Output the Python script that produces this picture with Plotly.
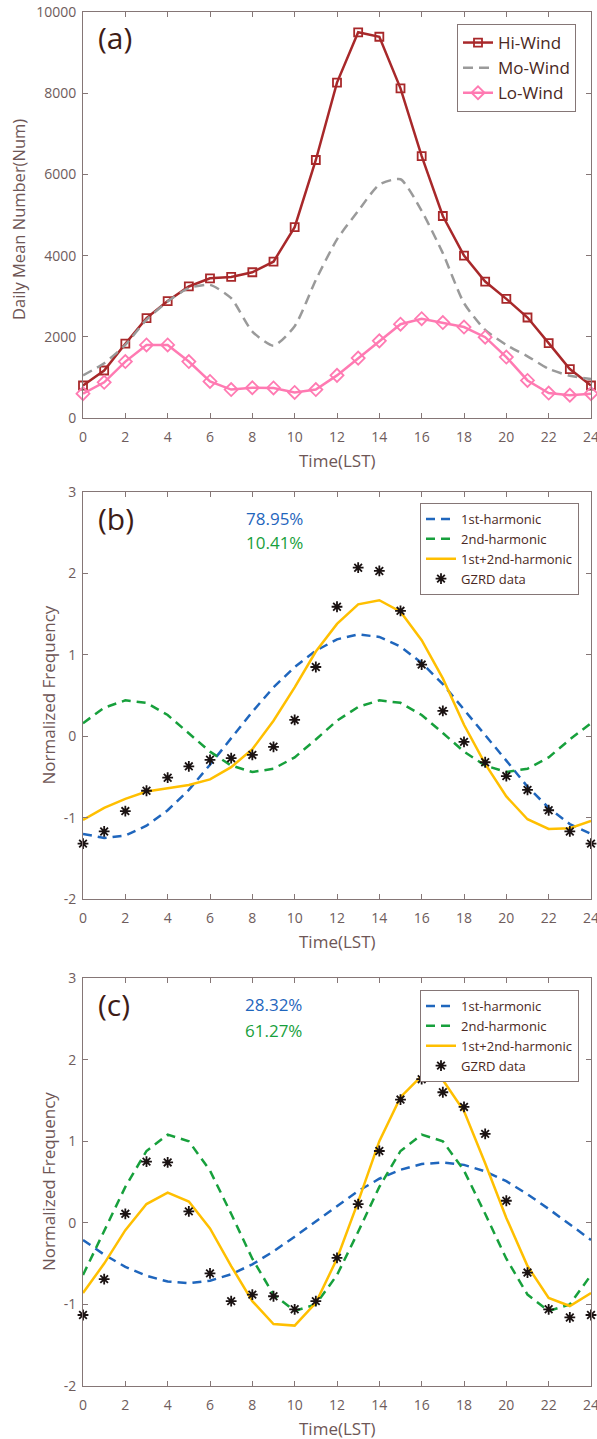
import plotly.graph_objects as go

# ---------------- data ----------------
hours = list(range(25))

hi_wind = [800, 1170, 1830, 2460, 2880, 3240, 3440, 3475, 3590, 3850, 4700, 6355, 8260,
           9500, 9390, 8120, 6450, 4975, 4000, 3360, 2935, 2475, 1845, 1205, 800]
mo_wind = [1050, 1350, 1800, 2420, 2870, 3200, 3280, 2950, 2130, 1780, 2260, 3400, 4400,
           5100, 5750, 5880, 5100, 4060, 2830, 2170, 1800, 1520, 1210, 1040, 960]
lo_wind = [600, 880, 1390, 1800, 1800, 1390, 900, 700, 745, 740, 630, 700, 1050,
           1475, 1900, 2310, 2445, 2350, 2240, 1990, 1500, 925, 615, 560, 600]

# panel (b)
b_first = [-1.20, -1.25, -1.22, -1.10, -0.91, -0.66, -0.35, -0.02, 0.30, 0.60, 0.85, 1.05, 1.19,
           1.25, 1.22, 1.10, 0.90, 0.64, 0.33, 0.02, -0.30, -0.62, -0.88, -1.08, -1.20]
b_second = [0.16, 0.35, 0.44, 0.41, 0.26, 0.04, -0.19, -0.36, -0.44, -0.40, -0.26, -0.04, 0.19,
            0.36, 0.44, 0.41, 0.26, 0.04, -0.19, -0.36, -0.44, -0.40, -0.26, -0.04, 0.16]
b_sum = [-1.03, -0.88, -0.77, -0.68, -0.64, -0.60, -0.53, -0.38, -0.16, 0.19, 0.60, 1.04, 1.38,
         1.62, 1.67, 1.53, 1.18, 0.71, 0.14, -0.34, -0.74, -1.02, -1.14, -1.13, -1.04]
b_data = [-1.32, -1.17, -0.92, -0.67, -0.51, -0.37, -0.29, -0.27, -0.23, -0.13, 0.20, 0.85, 1.59,
          2.07, 2.03, 1.54, 0.88, 0.31, -0.07, -0.32, -0.49, -0.66, -0.91, -1.17, -1.32]
b_pct = ["78.95%", "10.41%"]

# panel (c)
c_first = [-0.21, -0.39, -0.54, -0.65, -0.72, -0.74, -0.71, -0.63, -0.51, -0.35, -0.17, 0.02, 0.21,
           0.39, 0.54, 0.65, 0.72, 0.74, 0.71, 0.63, 0.51, 0.35, 0.17, -0.02, -0.21]
c_second = [-0.64, -0.11, 0.44, 0.88, 1.08, 1.00, 0.64, 0.11, -0.44, -0.88, -1.08, -1.00, -0.64,
            -0.11, 0.44, 0.88, 1.08, 1.00, 0.64, 0.11, -0.44, -0.88, -1.08, -1.00, -0.64]
c_sum = [-0.86, -0.50, -0.09, 0.23, 0.37, 0.26, -0.07, -0.53, -0.96, -1.24, -1.26, -0.98, -0.44,
         0.26, 1.00, 1.54, 1.80, 1.75, 1.37, 0.73, 0.06, -0.53, -0.92, -1.02, -0.86]
c_data = [-1.13, -0.69, 0.11, 0.75, 0.74, 0.14, -0.62, -0.96, -0.88, -0.90, -1.06, -0.96, -0.43,
          0.23, 0.88, 1.51, 1.76, 1.60, 1.42, 1.09, 0.27, -0.61, -1.06, -1.16, -1.13]
c_pct = ["28.32%", "61.27%"]

x_ticks = list(range(0, 25, 2))
x_ticktext = [str(v) for v in x_ticks]
a_yticks = [0, 2000, 4000, 6000, 8000, 10000]
a_yticktext = ["0", "2000", "4000", "6000", "8000", "10000"]
bc_yticks = [-2, -1, 0, 1, 2, 3]
bc_yticktext = ["-2", "-1", "0", "1", "2", "3"]

# ---------------- style ----------------
W, H = 597, 1439
FONT = "Open Sans"
AXC = "#857676"
TICKC = "#6e5c5c"
TITLEC = "#6e5656"
LEGC = "#4a2822"
LABC = "#3e1c16"
HI_C = "#a8282a"
MO_C = "#9a9a9a"
LO_C = "#ff7ab2"
BLUE = "#1f66bd"
GREEN = "#17a03c"
YELLOW = "#ffbf00"
STAR = "#1a1212"


def px(x):
    return x / W


def py(y):
    return 1 - y / H


panels = {
    "a": (12, 418),
    "b": (492, 899),
    "c": (978, 1386),
}
XL, XR = 83, 591

fig = go.Figure()

# panel (a)
fig.add_trace(go.Scatter(x=hours, y=hi_wind, name="Hi-Wind", mode="lines+markers",
                         line=dict(color=HI_C, width=2.5),
                         marker=dict(symbol="square-open", size=8, color=HI_C, line=dict(width=1.8)),
                         xaxis="x", yaxis="y", legend="legend", cliponaxis=False))
fig.add_trace(go.Scatter(x=hours, y=mo_wind, name="Mo-Wind", mode="lines",
                         line=dict(color=MO_C, width=2.5, dash="10px,6px", shape="spline", smoothing=0.6),
                         xaxis="x", yaxis="y", legend="legend"))
fig.add_trace(go.Scatter(x=hours, y=lo_wind, name="Lo-Wind", mode="lines+markers",
                         line=dict(color=LO_C, width=2.5),
                         marker=dict(symbol="diamond-open", size=10, color=LO_C, line=dict(width=1.8)),
                         xaxis="x", yaxis="y", legend="legend", cliponaxis=False))


def harmonic_traces(first, second, total, data, xa, ya, leg):
    fig.add_trace(go.Scatter(x=hours, y=first, name="1st-harmonic", mode="lines",
                             line=dict(color=BLUE, width=2.5, dash="9px,6px"),
                             xaxis=xa, yaxis=ya, legend=leg))
    fig.add_trace(go.Scatter(x=hours, y=second, name="2nd-harmonic", mode="lines",
                             line=dict(color=GREEN, width=2.5, dash="9px,6px"),
                             xaxis=xa, yaxis=ya, legend=leg))
    fig.add_trace(go.Scatter(x=hours, y=total, name="1st+2nd-harmonic", mode="lines",
                             line=dict(color=YELLOW, width=2.5),
                             xaxis=xa, yaxis=ya, legend=leg))
    fig.add_trace(go.Scatter(x=hours, y=data, name="GZRD data", mode="markers",
                             marker=dict(symbol="asterisk-open", size=9, color=STAR,
                                         line=dict(width=1.8, color=STAR)),
                             xaxis=xa, yaxis=ya, legend=leg, cliponaxis=False))


harmonic_traces(b_first, b_second, b_sum, b_data, "x2", "y2", "legend2")
harmonic_traces(c_first, c_second, c_sum, c_data, "x3", "y3", "legend3")

axis_common = dict(showline=True, linecolor=AXC, linewidth=1, mirror="ticks",
                   ticks="inside", ticklen=5, tickcolor=AXC, showgrid=False, zeroline=False,
                   tickfont=dict(family=FONT, size=14, color=TICKC),
                   ticklabeloverflow="allow", automargin=False)

layout = dict(width=W, height=H, margin=dict(l=0, r=0, t=0, b=0, autoexpand=False),
              paper_bgcolor="white", plot_bgcolor="white",
              font=dict(family=FONT, color=TICKC), showlegend=True)

for i, (key, (top, bot)) in enumerate(panels.items()):
    sfx = "" if i == 0 else str(i + 1)
    layout["xaxis" + sfx] = dict(axis_common, domain=[px(XL), px(XR)], range=[0, 24],
                                 tickvals=x_ticks, ticktext=x_ticktext, anchor="y" + sfx,
                                 ticklabelstandoff=6)
    if key == "a":
        layout["yaxis" + sfx] = dict(axis_common, domain=[py(bot), py(top)], range=[0, 10000],
                                     tickvals=a_yticks, ticktext=a_yticktext, anchor="x" + sfx,
                                     ticklabelstandoff=3)
    else:
        layout["yaxis" + sfx] = dict(axis_common, domain=[py(bot), py(top)], range=[-2, 3],
                                     tickvals=bc_yticks, ticktext=bc_yticktext, anchor="x" + sfx,
                                     ticklabelstandoff=3)

layout["legend"] = dict(x=px(457), y=py(24), xanchor="left", yanchor="top",
                        bordercolor=AXC, borderwidth=1, bgcolor="white",
                        font=dict(family=FONT, size=17, color=LEGC),
                        itemwidth=30, tracegroupgap=0)
layout["legend2"] = dict(x=px(420), y=py(503), xanchor="left", yanchor="top",
                         bordercolor=AXC, borderwidth=1, bgcolor="white",
                         font=dict(family=FONT, size=13, color=LEGC),
                         itemwidth=30, tracegroupgap=0)
layout["legend3"] = dict(x=px(420), y=py(990), xanchor="left", yanchor="top",
                         bordercolor=AXC, borderwidth=1, bgcolor="white",
                         font=dict(family=FONT, size=13, color=LEGC),
                         itemwidth=30, tracegroupgap=0)

fig.update_layout(**layout)

ann = []
xmid = (XL + XR) / 2
for key, (top, bot) in panels.items():
    ann.append(dict(text="Time(LST)", x=px(xmid), y=py(bot + 42), xref="paper", yref="paper",
                    showarrow=False, xanchor="center", yanchor="middle",
                    font=dict(family=FONT, size=17, color=TITLEC)))
ann.append(dict(text="Daily Mean Number(Num)", x=px(18), y=py(220), xref="paper", yref="paper",
                showarrow=False, textangle=-90, xanchor="center", yanchor="middle",
                font=dict(family=FONT, size=16.5, color=TITLEC)))
for key in ("b", "c"):
    top, bot = panels[key]
    ann.append(dict(text="Normalized Frequency", x=px(48), y=py((top + bot) / 2),
                    xref="paper", yref="paper", showarrow=False, textangle=-90,
                    xanchor="center", yanchor="middle",
                    font=dict(family=FONT, size=17, color=TITLEC)))
for lab, yc in (("(a)", 38), ("(b)", 518), ("(c)", 1004)):
    ann.append(dict(text=lab, x=px(96), y=py(yc), xref="paper", yref="paper", showarrow=False,
                    xanchor="left", yanchor="middle",
                    font=dict(family=FONT, size=30, color=LABC)))
for pct, y1, y2, xl in ((b_pct, 518, 542, 244), (c_pct, 1005, 1030, 243)):
    ann.append(dict(text=pct[0], x=px(xl), y=py(y1), xref="paper", yref="paper", showarrow=False,
                    xanchor="left", yanchor="middle", font=dict(family=FONT, size=17, color=BLUE)))
    ann.append(dict(text=pct[1], x=px(xl), y=py(y2), xref="paper", yref="paper", showarrow=False,
                    xanchor="left", yanchor="middle", font=dict(family=FONT, size=17, color=GREEN)))

fig.update_layout(annotations=ann)
fig.write_html("out.html", config={"displayModeBar": False},
               post_script="document.body.style.margin='0';")
